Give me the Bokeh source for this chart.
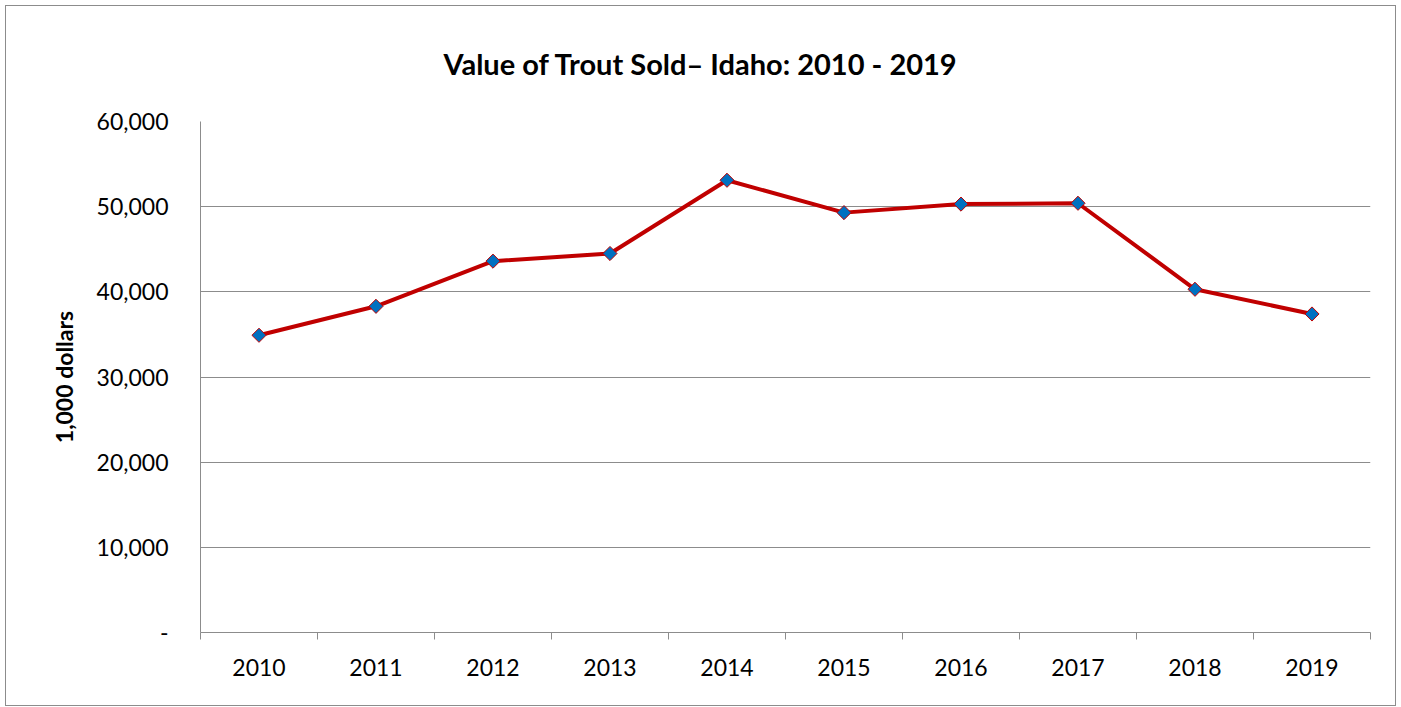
import numpy as np
from bokeh.plotting import figure
from bokeh.models import FixedTicker, NumeralTickFormatter, Range1d, Title
from bokeh.embed import file_html
from bokeh.resources import INLINE

years = ["2010", "2011", "2012", "2013", "2014", "2015", "2016", "2017", "2018", "2019"]
values = [34900, 38300, 43600, 44500, 53100, 49300, 50300, 50400, 40300, 37400]
y_ticks = [0, 10000, 20000, 30000, 40000, 50000, 60000]
title_text = "Value of Trout Sold\u2013 Idaho: 2010 - 2019"
y_label = "1,000 dollars"

FONT = "Lato"
GRID = "#8c8c8c"
RED = "#C00000"
BLUE = "#0070C0"

xs = [i + 0.5 for i in range(len(years))]

p = figure(
    width=1389, height=699,
    frame_width=1170, frame_height=511,
    min_border_left=194, min_border_right=25, min_border_top=115, min_border_bottom=73,
    output_backend="svg", toolbar_location=None,
    x_range=Range1d(0, len(years)), y_range=Range1d(0, 60000),
)
p.styles = {"margin-left": "5px", "margin-top": "5px", "border": "1px solid #8c8c8c"}

t = Title(text=title_text, align="left", offset=243, vertical_align="top",
          text_font=FONT, text_font_size="29px",
          text_font_style="bold", text_color="black", standoff=78)
p.add_layout(t, "above")

p.outline_line_color = None
p.background_fill_color = "white"
p.border_fill_color = "white"

# x axis
p.xaxis.ticker = FixedTicker(ticks=xs, minor_ticks=list(range(len(years) + 1)))
p.xaxis.major_label_overrides = {x: y for x, y in zip(xs, years)}
p.xaxis.major_tick_out = 0
p.xaxis.major_tick_in = 0
p.xaxis.minor_tick_out = 7
p.xaxis.minor_tick_in = 0
p.xaxis.minor_tick_line_color = GRID
p.xaxis.axis_line_color = GRID
p.xaxis.major_label_text_font = FONT
p.xaxis.major_label_text_font_size = "23px"
p.xaxis.major_label_text_color = "black"
p.xaxis.major_label_standoff = 19
p.xgrid.grid_line_color = None

# y axis
p.yaxis.ticker = FixedTicker(ticks=y_ticks)
p.yaxis.formatter = NumeralTickFormatter(format="0,0")
p.yaxis.major_label_overrides = {0: "-"}
p.yaxis.major_tick_out = 0
p.yaxis.major_tick_in = 0
p.yaxis.minor_tick_line_color = None
p.yaxis.axis_line_color = GRID
p.yaxis.major_label_text_font = FONT
p.yaxis.major_label_text_font_size = "23px"
p.yaxis.major_label_text_color = "black"
p.yaxis.major_label_standoff = 32
p.yaxis.axis_label = y_label
p.yaxis.axis_label_text_font = FONT
p.yaxis.axis_label_text_font_size = "23px"
p.yaxis.axis_label_text_font_style = "bold"
p.yaxis.axis_label_text_color = "black"
p.yaxis.axis_label_standoff = 16
p.ygrid.grid_line_color = GRID
p.ygrid.grid_line_width = 1

p.line(xs, values, line_color=RED, line_width=4)
p.scatter(xs, values, marker="square", angle=np.pi / 4, size=10,
          fill_color=BLUE, line_color=RED, line_width=1)

open("out.html", "w").write(file_html(p, INLINE))
